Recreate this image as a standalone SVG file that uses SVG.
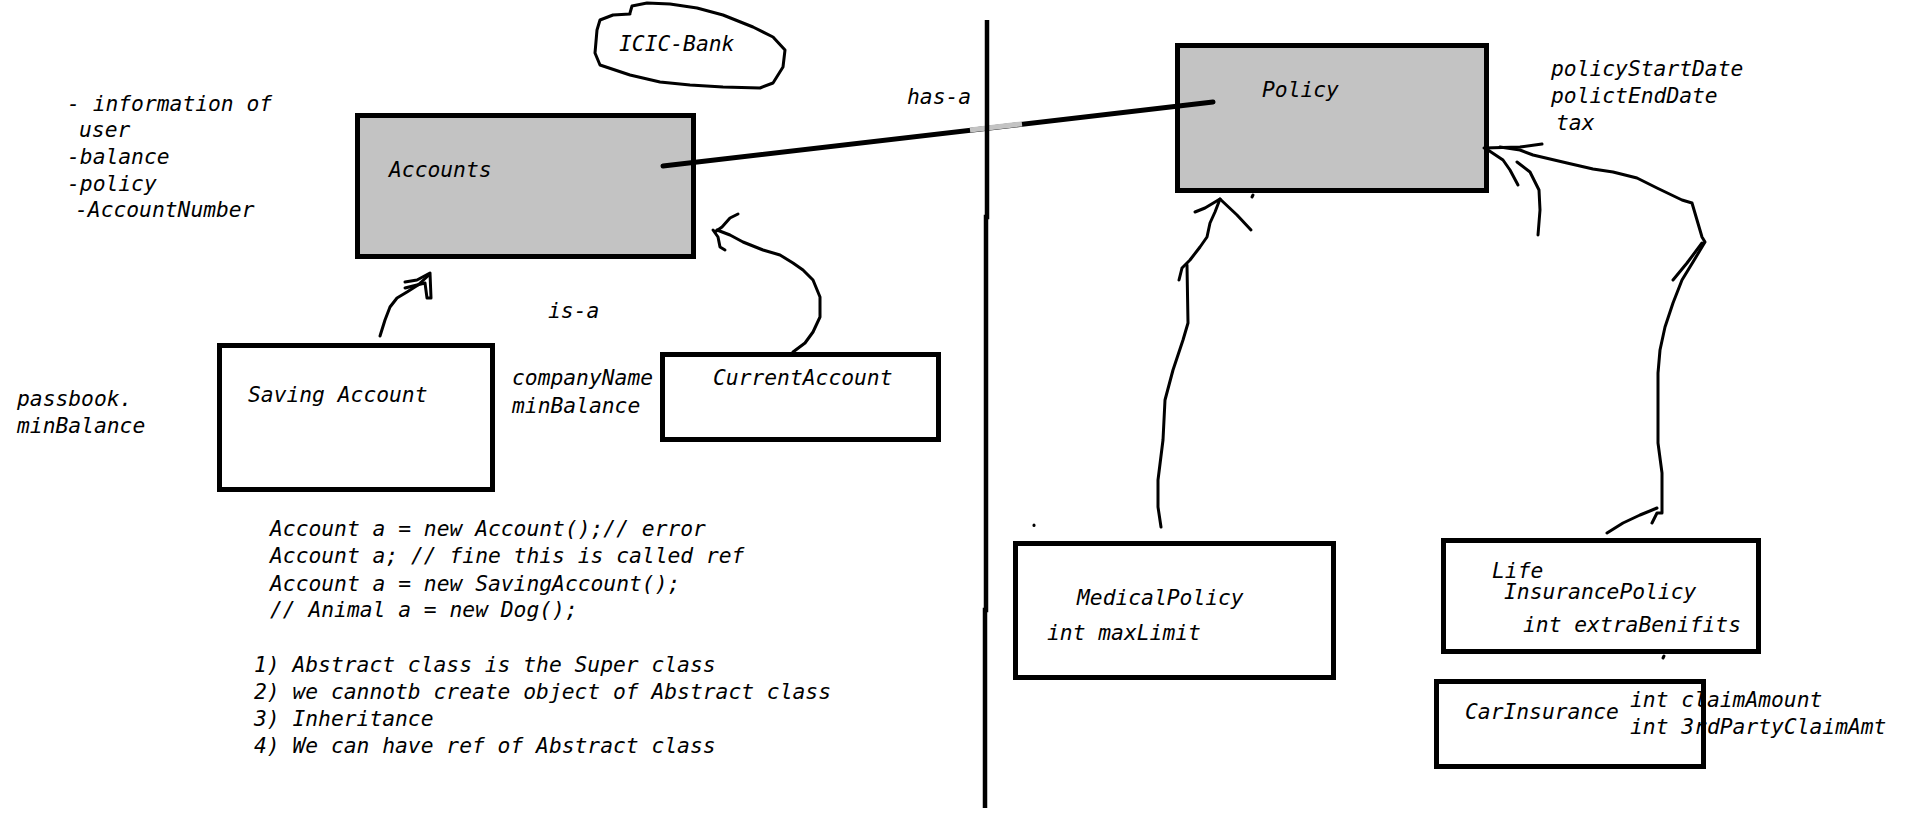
<svg xmlns="http://www.w3.org/2000/svg" width="1907" height="815" viewBox="0 0 1907 815">
<style>
.t{font-family:"DejaVu Sans Mono","Liberation Mono",monospace;font-style:italic;font-size:21.3px;fill:#000}
.box{fill:#fff;stroke:#000;stroke-width:5}
.gbox{fill:#c3c3c3;stroke:#000;stroke-width:5}
.hand{fill:none;stroke:#000;stroke-width:3;stroke-linejoin:round;stroke-linecap:round}
</style>
<rect x="0" y="0" width="1907" height="815" fill="#fff"/>

<g id="icic-bank">
<path class="hand" d="M630,13 L632,6 L647,3 L670,4 L697,8 L723,15 L753,27 L773,37 L785,50 L783,67 L773,83 L760,88 L723,87 L690,85 L660,82 L630,75 L600,65 L595,53 L597,30 L600,20 L613,15 L630,14"/>
<text class="t" x="619" y="51">ICIC-Bank</text>
</g>

<g id="account-notes">
<text class="t" x="67" y="111">- information of</text>
<text class="t" x="79" y="137">user</text>
<text class="t" x="67" y="164">-balance</text>
<text class="t" x="67" y="191">-policy</text>
<text class="t" x="75" y="217">-AccountNumber</text>
</g>

<g id="accounts">
<rect class="gbox" x="357.5" y="115.5" width="336" height="141"/>
<text class="t" x="389" y="177">Accounts</text>
</g>

<g id="policy">
<rect class="gbox" x="1177.5" y="45.5" width="309" height="145"/>
<text class="t" x="1262" y="97">Policy</text>
</g>

<g id="policy-notes">
<text class="t" x="1551" y="76">policyStartDate</text>
<text class="t" x="1551" y="103">polictEndDate</text>
<text class="t" x="1556" y="130">tax</text>
</g>

<g id="saving-account">
<rect class="box" x="219.5" y="345.5" width="273" height="144"/>
<text class="t" x="248" y="402">Saving Account</text>
</g>

<g id="saving-notes">
<text class="t" x="17" y="406">passbook.</text>
<text class="t" x="17" y="433">minBalance</text>
</g>

<g id="current-notes">
<text class="t" x="512" y="385">companyName</text>
<text class="t" x="512" y="413">minBalance</text>
</g>

<g id="current-account">
<rect class="box" x="662.5" y="354.5" width="276" height="85"/>
<text class="t" x="713" y="385">CurrentAccount</text>
</g>

<g id="is-a-label">
<text class="t" x="548" y="318">is-a</text>
</g>

<g id="has-a-label">
<text class="t" x="907" y="104">has-a</text>
</g>

<g id="code-notes">
<text class="t" x="270" y="536">Account a = new Account();// error</text>
<text class="t" x="270" y="563">Account a; // fine this is called ref</text>
<text class="t" x="270" y="591">Account a = new SavingAccount();</text>
<text class="t" x="270" y="617">// Animal a = new Dog();</text>
<text class="t" x="254" y="672">1) Abstract class is the Super class</text>
<text class="t" x="254" y="699">2) we cannotb create object of Abstract class</text>
<text class="t" x="254" y="726">3) Inheritance</text>
<text class="t" x="254" y="753">4) We can have ref of Abstract class</text>
</g>

<g id="medical-policy">
<rect class="box" x="1015.5" y="543.5" width="318" height="134"/>
<text class="t" x="1077" y="605">MedicalPolicy</text>
<text class="t" x="1047" y="640">int maxLimit</text>
</g>

<g id="life-insurance-policy">
<rect class="box" x="1443.5" y="540.5" width="315" height="111"/>
<text class="t" x="1492" y="578">Life</text>
<text class="t" x="1504" y="599">InsurancePolicy</text>
<text class="t" x="1523" y="632">int extraBenifits</text>
</g>

<g id="car-insurance">
<text class="t" x="1465" y="719">CarInsurance</text>
<text class="t" x="1630" y="707">int claimAmount</text>
<text class="t" x="1630" y="734">int 3rdPartyClaimAmt</text>
<rect class="box" x="1436.5" y="681.5" width="267" height="85" fill="none" style="fill:none"/>
</g>

<g id="connectors">
<line x1="663" y1="166" x2="1213" y2="102" stroke="#000" stroke-width="5" stroke-linecap="round"/>
<line x1="970" y1="129.9" x2="1022" y2="123.9" stroke="#c3c3c3" stroke-width="5"/>
<polyline fill="none" stroke="#000" stroke-width="4.5" points="987,20 987,217 986,217 986,610 985,610 985,808"/>

<polyline class="hand" points="380,336 385,320 390,307 397,298 407,292 418,285 429,275"/>
<polyline class="hand" points="405,282 417,280 430,273 431,298 427,298 425,283 417,285 405,288"/>

<polyline class="hand" points="793,352 805,343 813,332 820,317 820,297 813,280 803,270 793,263 780,255 763,250 743,242 730,235 717,230"/>
<polyline class="hand" points="738,214 730,218 722,227 715,232 713,230 718,237 720,247 725,250"/>

<polyline class="hand" points="1195,212 1205,208 1220,199 1237,215 1251,230"/>
<polyline class="hand" points="1220,199 1215,212 1210,223 1207,237 1200,247 1190,260 1182,268 1179,280"/>
<polyline class="hand" points="1187,265 1188,323 1183,340 1173,370 1165,400 1163,440 1158,480 1158,507 1161,527"/>

<polyline class="hand" points="1484,148 1520,147 1542,144"/>
<polyline class="hand" points="1488,150 1503,160 1510,170 1518,185"/>
<polyline class="hand" points="1517,162 1530,172 1539,190 1540,210 1538,235"/>
<polyline class="hand" points="1500,147 1520,150 1533,155 1567,163 1593,169 1613,172 1637,178 1657,188 1682,200 1692,203 1697,220 1702,237 1705,242 1693,262 1682,280 1673,303 1665,327 1660,350 1658,373 1658,443 1662,473 1662,513 1657,513 1652,523"/>
<polyline class="hand" points="1673,280 1687,263 1702,243"/>
<polyline class="hand" points="1657,508 1640,515 1623,523 1607,533"/>

<line class="hand" x1="1253" y1="195" x2="1252" y2="197" stroke-width="1.5"/>
<line class="hand" x1="1664" y1="656" x2="1663" y2="658" stroke-width="1.5"/>
<line class="hand" x1="1034" y1="525" x2="1034" y2="525.5" stroke-width="1"/>
</g>
</svg>
